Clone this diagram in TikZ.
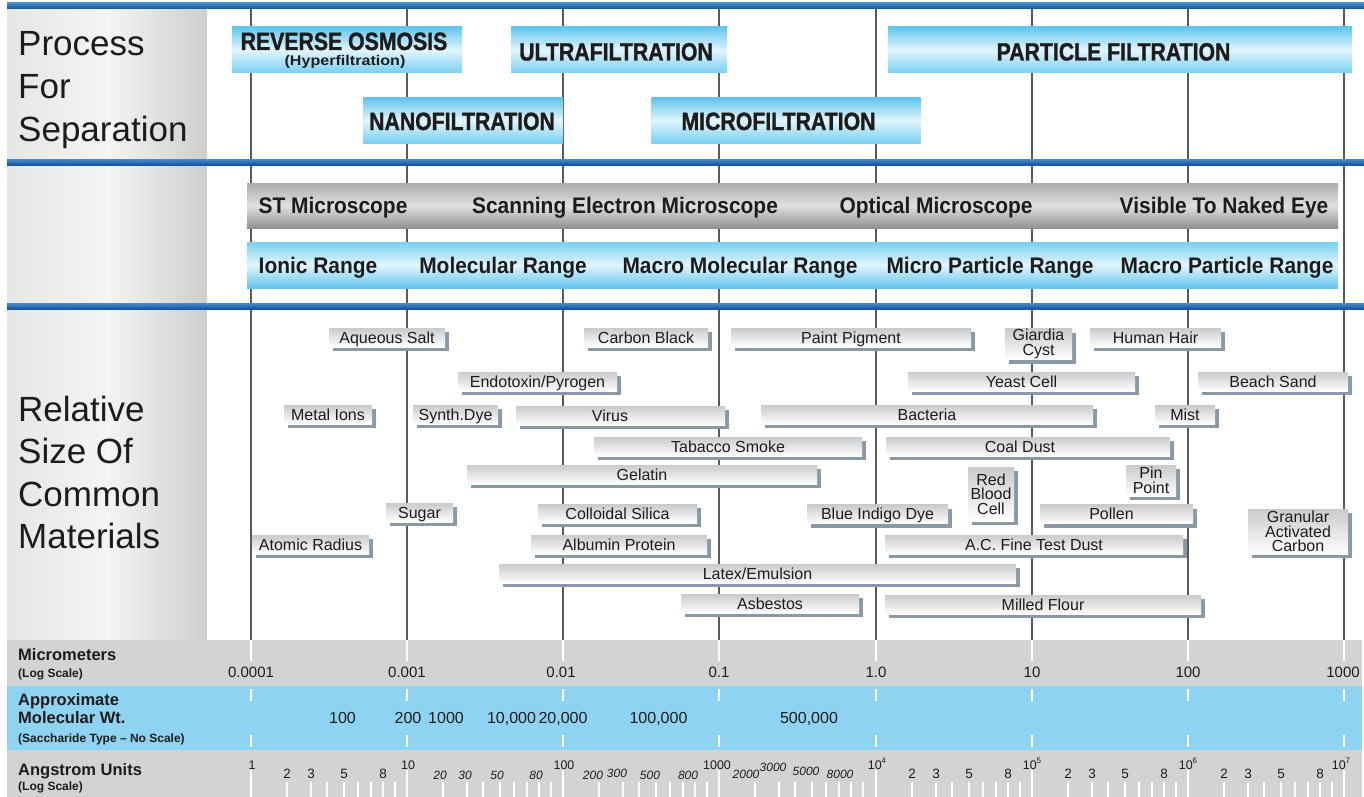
\documentclass[tikz,border=0pt]{standalone}
\usepackage{fontspec}
\setmainfont{Liberation Sans}
\newfontfamily\condA[FakeStretch=0.85, FakeBold=1.2]{Liberation Sans Bold}
\newfontfamily\condB[FakeStretch=0.93]{Liberation Sans}
\usetikzlibrary{shadows}
\definecolor{txt}{RGB}{28,28,28}
\definecolor{blA}{RGB}{70,140,205}
\definecolor{blB}{RGB}{22,85,155}
\definecolor{gridc}{RGB}{90,90,90}
\definecolor{bandgrey}{RGB}{209,211,213}
\definecolor{bandblue}{RGB}{142,211,242}
\definecolor{cyA}{RGB}{98,197,238}
\definecolor{cyB}{RGB}{226,245,253}
\definecolor{cyC}{RGB}{120,207,242}
\definecolor{gyA}{RGB}{172,172,172}
\definecolor{gyB}{RGB}{224,224,224}
\definecolor{gyC}{RGB}{145,145,145}
\definecolor{lpA}{RGB}{230,230,230}
\definecolor{lpB}{RGB}{244,244,244}
\definecolor{lpC}{RGB}{206,206,206}
\definecolor{shad}{RGB}{138,153,168}
\definecolor{matA}{RGB}{200,202,204}
\begin{document}
\begin{tikzpicture}[x=1pt,y=-1pt,
  procbar/.style={rectangle, inner sep=0pt, top color=cyA, bottom color=cyC, middle color=cyB},
  proctext/.style={inner sep=0pt, text=txt, font=\condA\fontsize{25}{25}\selectfont, text height=18pt, text depth=0pt},
  greybar/.style={rectangle, inner sep=0pt, top color=gyA, bottom color=gyC, middle color=gyB},
  bluebar/.style={rectangle, inner sep=0pt, top color=cyC, bottom color=cyA, middle color=cyB},
  midtext/.style={inner sep=0pt, text=txt, font=\condB\bfseries\fontsize{22.5}{22.5}\selectfont, text height=16pt, text depth=0pt},
  bigtext/.style={inner sep=0pt, text=txt, font=\fontsize{35}{43}\selectfont, anchor=base west},
  matbox/.style={rectangle, inner sep=0pt, minimum height=19pt, top color=matA, bottom color=white,
     drop shadow={shadow xshift=4pt, shadow yshift=-4pt, fill=shad, opacity=1},
     font=\fontsize{16}{14.5}\selectfont, text=txt},
  mat/.style={matbox, text height=11.5pt, text depth=0pt},
  matm/.style={matbox, align=center},
  labb/.style={inner sep=0pt, text=txt, anchor=base west, font=\bfseries\fontsize{16.5}{16.5}\selectfont},
  labs/.style={inner sep=0pt, text=txt, anchor=base west, font=\bfseries\fontsize{12}{12}\selectfont},
  num/.style={inner sep=0pt, text=txt, anchor=base, font=\fontsize{15}{15}\selectfont},
  mw/.style={inner sep=0pt, text=txt, anchor=base, font=\fontsize{16}{16}\selectfont},
  angd/.style={inner sep=0pt, text=txt, anchor=base, font=\fontsize{12.5}{12.5}\selectfont},
  angm/.style={inner sep=0pt, text=txt, anchor=base, font=\fontsize{13.5}{13.5}\selectfont},
  angi/.style={inner sep=0pt, text=txt, anchor=base, font=\itshape\fontsize{12}{12}\selectfont},
  gridline/.style={draw=gridc, line width=1.4pt},
  wtick/.style={draw=white, line width=1.6pt}
]
\useasboundingbox (0,0) rectangle (1364,797);
\fill[white] (0,0) rectangle (1364,797);

% left panels
\foreach \a/\b in {8/159, 165/303, 309/640}
  \shade[left color=lpA, right color=lpC, middle color=lpB] (7,\a) rectangle (207,\b);

% vertical grid lines
\foreach \x in {251,407,563,719,876,1032,1188,1344}
  \draw[gridline] (\x,8) -- (\x,640);

% blue separator lines
\shade[top color=blA, bottom color=blB] (7,3) rectangle (1364,8.5);
\shade[top color=blA, bottom color=blB] (7,159) rectangle (1364,165);
\shade[top color=blA, bottom color=blB] (7,303) rectangle (1364,309);

% bottom bands
\fill[bandgrey] (7,640) rectangle (1362,686);
\fill[bandblue] (7,686) rectangle (1362,750);
\fill[bandgrey] (7,750) rectangle (1362,797);

\foreach \x in {251,407,563,719,876,1032,1188,1344} {
  \draw[wtick] (\x,640) -- (\x,661);
  \draw[wtick] (\x,689) -- (\x,701);
  \draw[wtick] (\x,735) -- (\x,747);
  \draw[wtick] (\x,770) -- (\x,797);
}
\foreach \x in {251,407,563,719,876,1032,1188}
  \foreach \o in {36,60,76,93,107,120,132,144}
    \draw[wtick] (\x+\o,782) -- (\x+\o,797);

% process bars
\node[procbar, minimum width=230pt, minimum height=46pt] (ro) at (347,50) {};
\node[procbar, minimum width=216pt, minimum height=46pt] (uf) at (619,50) {};
\node[procbar, minimum width=464pt, minimum height=46pt] (pf) at (1120,50) {};
\node[procbar, minimum width=200pt, minimum height=45pt] (nf) at (463,120.5) {};
\node[procbar, minimum width=269pt, minimum height=45pt] (mf) at (786,120.5) {};
\node[proctext] (rot) at (344,41) {REVERSE OSMOSIS};
\node[inner sep=0pt, text=txt, anchor=base, font=\bfseries\fontsize{14}{14}\selectfont] (roh) at (345,65.5) {\scalebox{1.15}[1]{(Hyperfiltration)}};
\node[proctext] (uft) at (616,51.5) {ULTRAFILTRATION};
\node[proctext] (pft) at (1113.5,51.5) {PARTICLE FILTRATION};
\node[proctext] (nft) at (462,121) {NANOFILTRATION};
\node[proctext] (mft) at (778.5,121) {MICROFILTRATION};

% microscope & range bars
\node[greybar, minimum width=1091pt, minimum height=45pt] (scope) at (792.5,205.5) {};
\node[bluebar, minimum width=1091pt, minimum height=46pt] (range) at (792.5,265) {};
\node[midtext] (st) at (333,205.5) {ST Microscope};
\node[midtext] (sem) at (625,205.5) {Scanning Electron Microscope};
\node[midtext] (om) at (936,205.5) {Optical Microscope};
\node[midtext] (vis) at (1224,205.5) {Visible To Naked Eye};
\node[midtext] (ion) at (318,265) {Ionic Range};
\node[midtext] (mol) at (503,265) {Molecular Range};
\node[midtext] (mmol) at (740,265) {Macro Molecular Range};
\node[midtext] (mip) at (990,265) {Micro Particle Range};
\node[midtext] (map) at (1227,265) {Macro Particle Range};

% left headings
\node[bigtext] (hp1) at (18,56) {Process};
\node[bigtext] (hp2) at (18,98.5) {For};
\node[bigtext] (hp3) at (18,141) {Separation};
\node[bigtext] (hr1) at (18,421) {Relative};
\node[bigtext] (hr2) at (18,463.5) {Size Of};
\node[bigtext] (hr3) at (18,506) {Common};
\node[bigtext] (hr4) at (18,548.5) {Materials};

% material boxes
\node[mat, minimum width=116pt] (aqs) at (387,337.5) {Aqueous Salt};
\node[mat, minimum width=124pt] (cb) at (646,337.5) {Carbon Black};
\node[mat, minimum width=240pt] (pp) at (851,337.5) {Paint Pigment};
\node[matm, minimum width=67pt, minimum height=31pt] (gc) at (1038.5,344) {Giardia\\Cyst};
\node[mat, minimum width=131pt] (hh) at (1155.5,337.5) {Human Hair};
\node[mat, minimum width=159pt] (endo) at (537.5,381.5) {Endotoxin/Pyrogen};
\node[mat, minimum width=227pt] (yc) at (1021.5,381.5) {Yeast Cell};
\node[mat, minimum width=150pt] (bs) at (1273,381.5) {Beach Sand};
\node[mat, minimum width=88pt] (mi) at (328,414.5) {Metal Ions};
\node[mat, minimum width=85pt] (sd) at (455.5,414.5) {Synth.Dye};
\node[mat, minimum width=209pt] (vir) at (620.5,415.5) {\hspace*{-21pt}Virus};
\node[mat, minimum width=332pt] (bac) at (927,414.5) {Bacteria};
\node[mat, minimum width=60pt] (mist) at (1185,414.5) {Mist};
\node[mat, minimum width=268pt] (ts) at (728,446.5) {Tabacco Smoke};
\node[mat, minimum width=284pt] (cd) at (1028,446.5) {\hspace*{-16pt}Coal Dust};
\node[mat, minimum width=350pt] (gel) at (642,474.5) {Gelatin};
\node[matm, minimum width=46pt, minimum height=54pt] (rbc) at (991,494) {Red\\Blood\\Cell};
\node[matm, minimum width=50pt, minimum height=31pt] (pin) at (1151,480.5) {Pin\\Point};
\node[mat, minimum width=67pt] (sug) at (419.5,512.5) {Sugar};
\node[mat, minimum width=159pt] (cs) at (617.5,513.5) {Colloidal Silica};
\node[mat, minimum width=141pt] (bid) at (877.5,514) {Blue Indigo Dye};
\node[mat, minimum width=153pt] (pol) at (1116.5,514) {\hspace*{-10pt}Pollen};
\node[matm, minimum width=100pt, minimum height=45pt] (gac) at (1298,531.5) {Granular\\Activated\\Carbon};
\node[mat, minimum width=117pt] (ar) at (310.5,544.5) {Atomic Radius};
\node[mat, minimum width=176pt] (alb) at (619,544.5) {Albumin Protein};
\node[mat, minimum width=298pt] (acd) at (1034,544.5) {A.C. Fine Test Dust};
\node[mat, minimum width=517pt] (lat) at (757.5,573.5) {Latex/Emulsion};
\node[mat, minimum width=178pt] (asb) at (770,603.5) {Asbestos};
\node[mat, minimum width=316pt] (mfl) at (1043,604.5) {Milled Flour};

% bottom labels
\node[labb] (lmic) at (18,660) {Micrometers};
\node[labs] (lmicl) at (18,677) {(Log Scale)};
\node[labb] (lapp) at (18,705) {Approximate};
\node[labb] (lmw) at (18,723) {Molecular Wt.};
\node[labs] (lsac) at (18,742) {(Saccharide Type – No Scale)};
\node[labb] (lang) at (18,775) {Angstrom Units};
\node[labs] (langl) at (18,790) {(Log Scale)};

% micrometer values
\node[num] (u1) at (251,677) {0.0001};
\node[num] (u2) at (407,677) {0.001};
\node[num] (u3) at (561,677) {0.01};
\node[num] (u4) at (719,677) {0.1};
\node[num] (u5) at (876,677) {1.0};
\node[num] (u6) at (1032,677) {10};
\node[num] (u7) at (1188,677) {100};
\node[num] (u8) at (1343,677) {1000};

% molecular weights
\node[mw] (w1) at (342.5,723) {100};
\node[mw] (w2) at (408,723) {200};
\node[mw] (w3) at (446,723) {1000};
\node[mw] (w4) at (511.5,723) {10,000};
\node[mw] (w5) at (563,723) {20,000};
\node[mw] (w6) at (658.5,723) {100,000};
\node[mw] (w7) at (809,723) {500,000};

% angstrom decade labels
\node[angd] (a0) at (252,769) {1};
\node[angd] (a1) at (408,769) {10};
\node[angd] (a2) at (564,769) {100};
\node[angd] (a3) at (717,769) {1000};
\node[angd] (a4) at (877,769) {10\raisebox{0.45em}{\fontsize{8}{8}\selectfont 4}};
\node[angd] (a5) at (1032,769) {10\raisebox{0.45em}{\fontsize{8}{8}\selectfont 5}};
\node[angd] (a6) at (1188,769) {10\raisebox{0.45em}{\fontsize{8}{8}\selectfont 6}};
\node[angd] (a7) at (1341,769) {10\raisebox{0.45em}{\fontsize{8}{8}\selectfont 7}};
\foreach \x in {251,876,1032,1188}
  \foreach \o/\t in {36/2,60/3,93/5,132/8}
    \node[angm] (am-\x-\t) at (\x+\o,778) {\t};
\node[angi] (ai1) at (440,779) {20};
\node[angi] (ai2) at (465,779) {30};
\node[angi] (ai3) at (497,779) {50};
\node[angi] (ai4) at (536,779) {80};
\node[angi] (ai5) at (593,779) {200};
\node[angi] (ai6) at (617,777) {300};
\node[angi] (ai7) at (650,779) {500};
\node[angi] (ai8) at (688,779) {800};
\node[angi] (ai9) at (746,778) {2000};
\node[angi] (ai10) at (773,771) {3000};
\node[angi] (ai11) at (806,775) {5000};
\node[angi] (ai12) at (840,778) {8000};
\end{tikzpicture}
\end{document}
